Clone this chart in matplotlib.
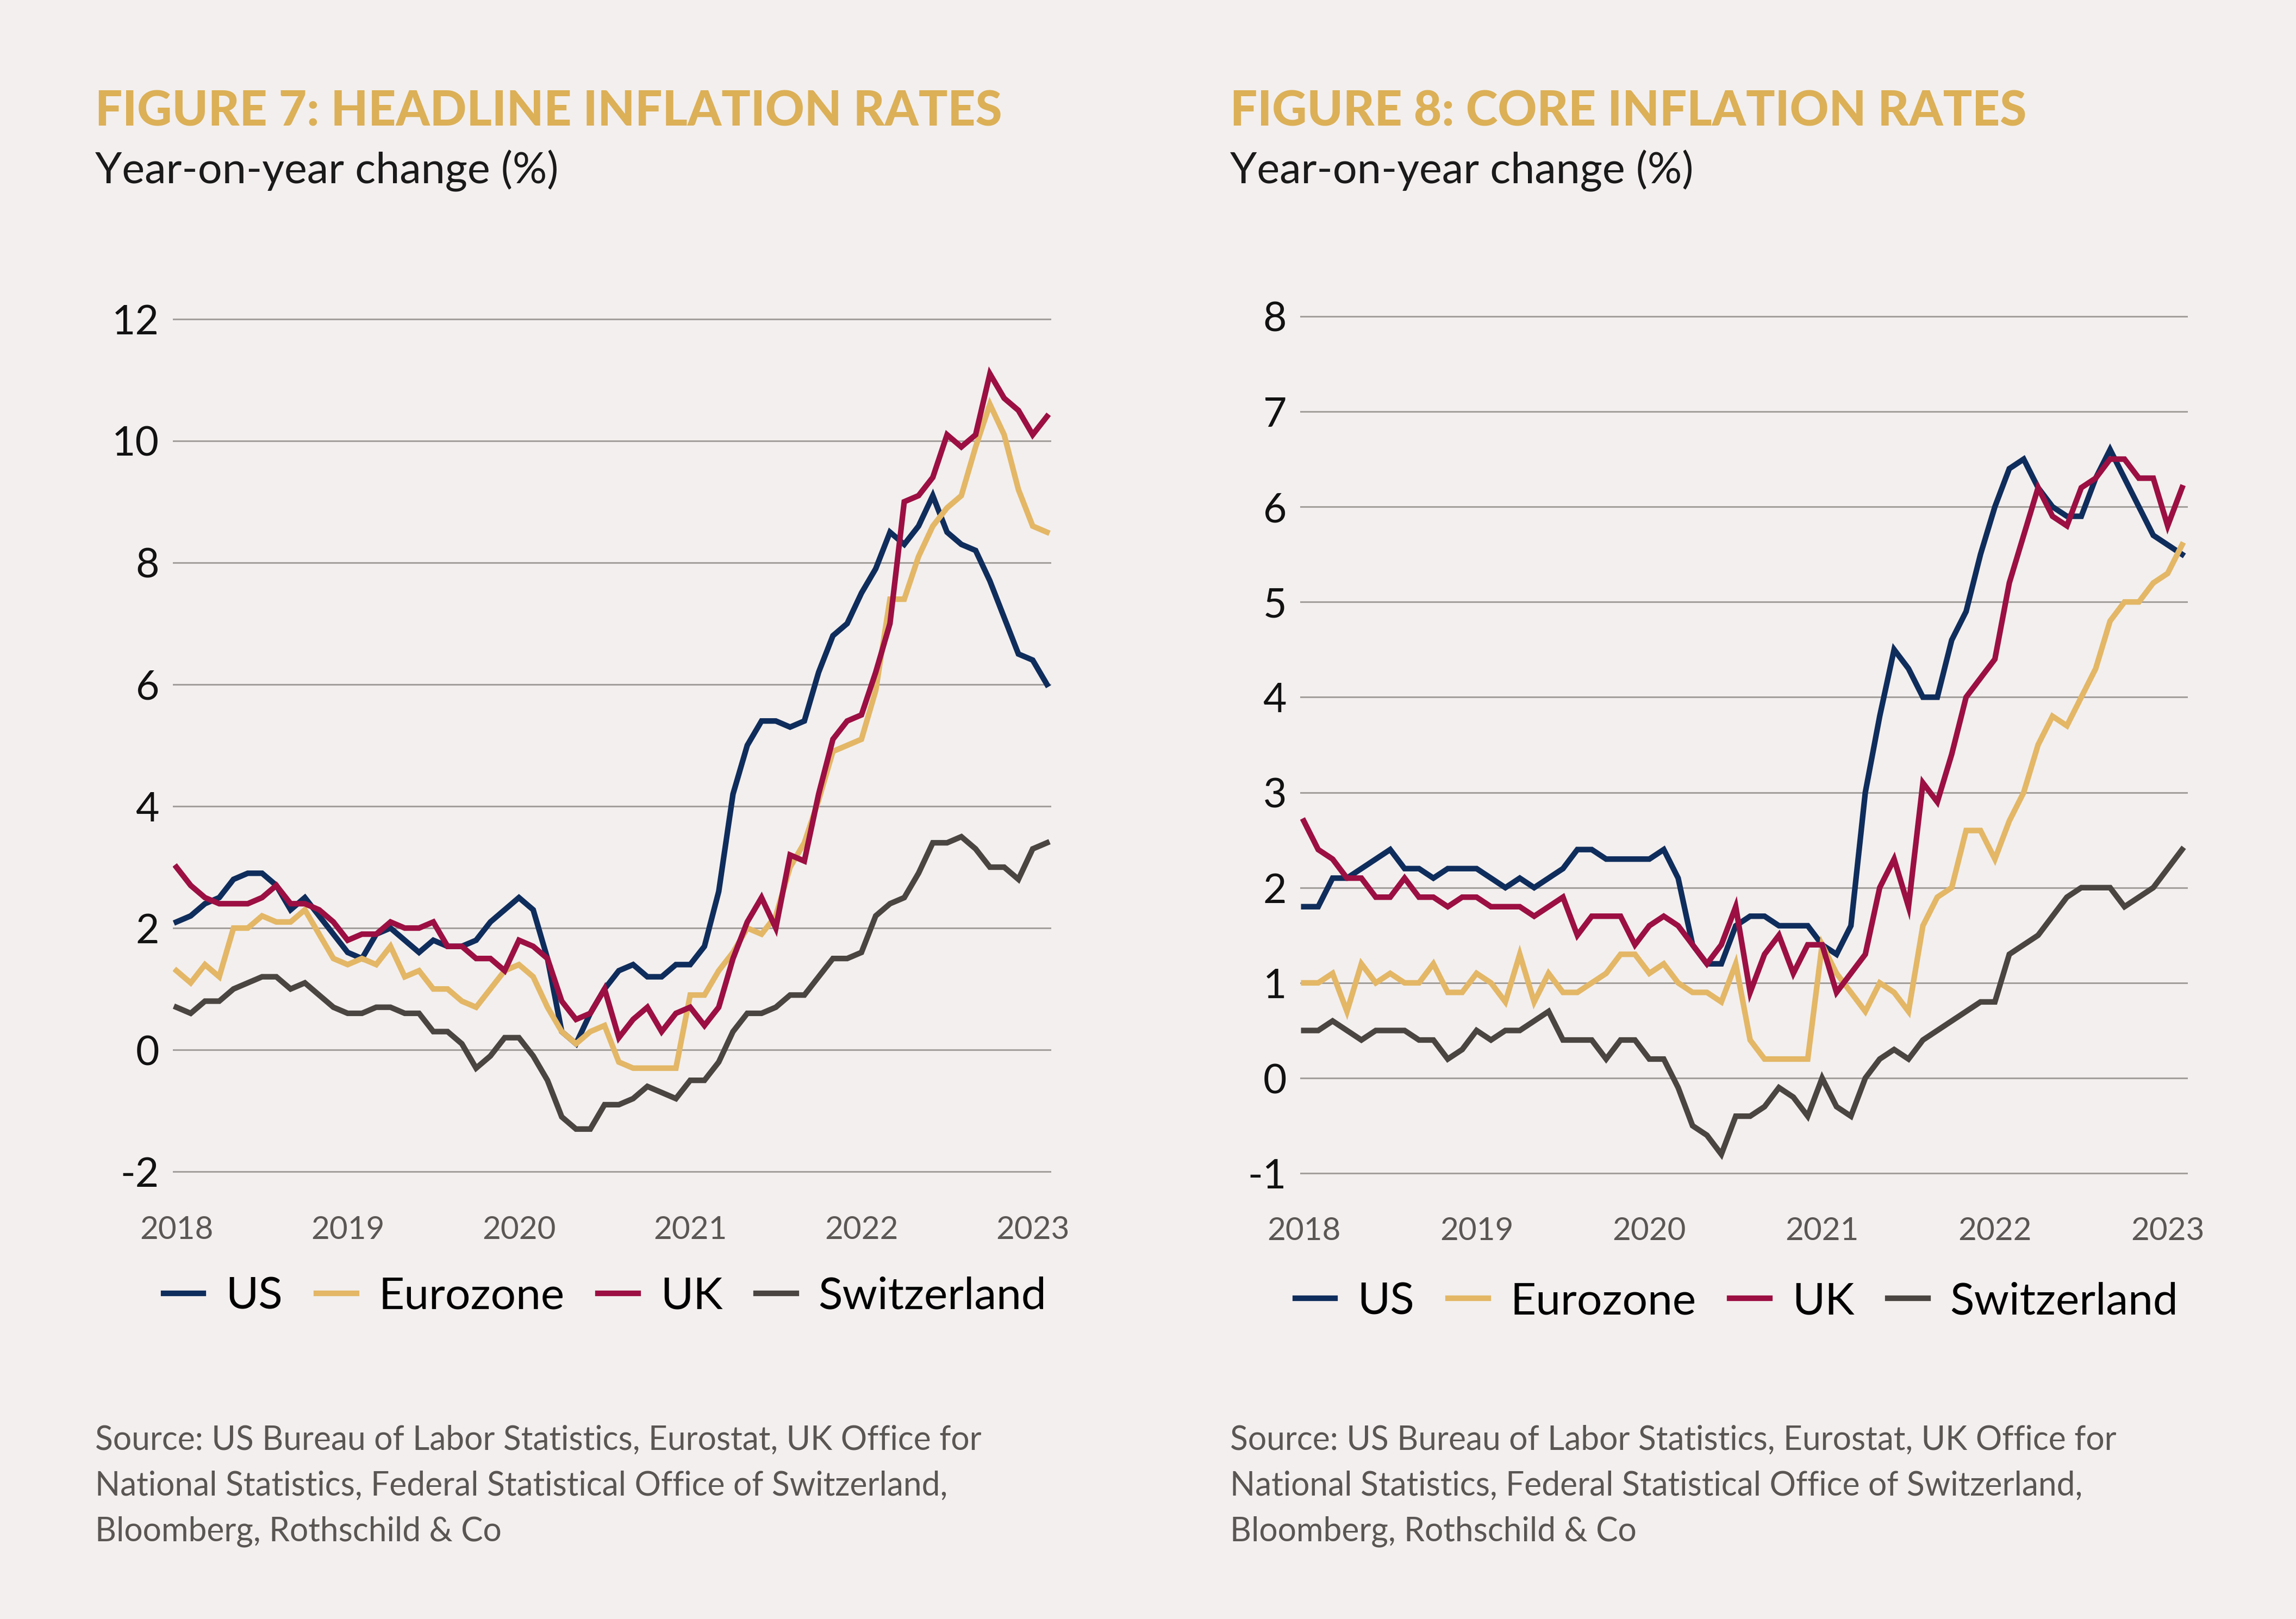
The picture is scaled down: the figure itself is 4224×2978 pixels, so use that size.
import matplotlib
matplotlib.use("Agg")
import numpy as np
import matplotlib.pyplot as plt

# ======================================================
# DATA  (monthly, Jan 2018 - Feb 2023)
# ======================================================

series_names = ["US", "Eurozone", "UK", "Switzerland"]
year_labels = ["2018", "2019", "2020", "2021", "2022", "2023"]

# Figure 7: headline inflation
us_headline = [
    2.1, 2.2, 2.4, 2.5, 2.8, 2.9, 2.9, 2.7, 2.3, 2.5, 2.2, 1.9,
    1.6, 1.5, 1.9, 2.0, 1.8, 1.6, 1.8, 1.7, 1.7, 1.8, 2.1, 2.3,
    2.5, 2.3, 1.5, 0.3, 0.1, 0.6, 1.0, 1.3, 1.4, 1.2, 1.2, 1.4,
    1.4, 1.7, 2.6, 4.2, 5.0, 5.4, 5.4, 5.3, 5.4, 6.2, 6.8, 7.0,
    7.5, 7.9, 8.5, 8.3, 8.6, 9.1, 8.5, 8.3, 8.2, 7.7, 7.1, 6.5,
    6.4, 6.0,
]
ez_headline = [
    1.3, 1.1, 1.4, 1.2, 2.0, 2.0, 2.2, 2.1, 2.1, 2.3, 1.9, 1.5,
    1.4, 1.5, 1.4, 1.7, 1.2, 1.3, 1.0, 1.0, 0.8, 0.7, 1.0, 1.3,
    1.4, 1.2, 0.7, 0.3, 0.1, 0.3, 0.4, -0.2, -0.3, -0.3, -0.3, -0.3,
    0.9, 0.9, 1.3, 1.6, 2.0, 1.9, 2.2, 3.0, 3.4, 4.1, 4.9, 5.0,
    5.1, 5.9, 7.4, 7.4, 8.1, 8.6, 8.9, 9.1, 9.9, 10.6, 10.1, 9.2,
    8.6, 8.5,
]
uk_headline = [
    3.0, 2.7, 2.5, 2.4, 2.4, 2.4, 2.5, 2.7, 2.4, 2.4, 2.3, 2.1,
    1.8, 1.9, 1.9, 2.1, 2.0, 2.0, 2.1, 1.7, 1.7, 1.5, 1.5, 1.3,
    1.8, 1.7, 1.5, 0.8, 0.5, 0.6, 1.0, 0.2, 0.5, 0.7, 0.3, 0.6,
    0.7, 0.4, 0.7, 1.5, 2.1, 2.5, 2.0, 3.2, 3.1, 4.2, 5.1, 5.4,
    5.5, 6.2, 7.0, 9.0, 9.1, 9.4, 10.1, 9.9, 10.1, 11.1, 10.7, 10.5,
    10.1, 10.4,
]
ch_headline = [
    0.7, 0.6, 0.8, 0.8, 1.0, 1.1, 1.2, 1.2, 1.0, 1.1, 0.9, 0.7,
    0.6, 0.6, 0.7, 0.7, 0.6, 0.6, 0.3, 0.3, 0.1, -0.3, -0.1, 0.2,
    0.2, -0.1, -0.5, -1.1, -1.3, -1.3, -0.9, -0.9, -0.8, -0.6, -0.7, -0.8,
    -0.5, -0.5, -0.2, 0.3, 0.6, 0.6, 0.7, 0.9, 0.9, 1.2, 1.5, 1.5,
    1.6, 2.2, 2.4, 2.5, 2.9, 3.4, 3.4, 3.5, 3.3, 3.0, 3.0, 2.8,
    3.3, 3.4,
]

# Figure 8: core inflation
us_core = [
    1.8, 1.8, 2.1, 2.1, 2.2, 2.3, 2.4, 2.2, 2.2, 2.1, 2.2, 2.2,
    2.2, 2.1, 2.0, 2.1, 2.0, 2.1, 2.2, 2.4, 2.4, 2.3, 2.3, 2.3,
    2.3, 2.4, 2.1, 1.4, 1.2, 1.2, 1.6, 1.7, 1.7, 1.6, 1.6, 1.6,
    1.4, 1.3, 1.6, 3.0, 3.8, 4.5, 4.3, 4.0, 4.0, 4.6, 4.9, 5.5,
    6.0, 6.4, 6.5, 6.2, 6.0, 5.9, 5.9, 6.3, 6.6, 6.3, 6.0, 5.7,
    5.6, 5.5,
]
ez_core = [
    1.0, 1.0, 1.1, 0.7, 1.2, 1.0, 1.1, 1.0, 1.0, 1.2, 0.9, 0.9,
    1.1, 1.0, 0.8, 1.3, 0.8, 1.1, 0.9, 0.9, 1.0, 1.1, 1.3, 1.3,
    1.1, 1.2, 1.0, 0.9, 0.9, 0.8, 1.2, 0.4, 0.2, 0.2, 0.2, 0.2,
    1.4, 1.1, 0.9, 0.7, 1.0, 0.9, 0.7, 1.6, 1.9, 2.0, 2.6, 2.6,
    2.3, 2.7, 3.0, 3.5, 3.8, 3.7, 4.0, 4.3, 4.8, 5.0, 5.0, 5.2,
    5.3, 5.6,
]
uk_core = [
    2.7, 2.4, 2.3, 2.1, 2.1, 1.9, 1.9, 2.1, 1.9, 1.9, 1.8, 1.9,
    1.9, 1.8, 1.8, 1.8, 1.7, 1.8, 1.9, 1.5, 1.7, 1.7, 1.7, 1.4,
    1.6, 1.7, 1.6, 1.4, 1.2, 1.4, 1.8, 0.9, 1.3, 1.5, 1.1, 1.4,
    1.4, 0.9, 1.1, 1.3, 2.0, 2.3, 1.8, 3.1, 2.9, 3.4, 4.0, 4.2,
    4.4, 5.2, 5.7, 6.2, 5.9, 5.8, 6.2, 6.3, 6.5, 6.5, 6.3, 6.3,
    5.8, 6.2,
]
ch_core = [
    0.5, 0.5, 0.6, 0.5, 0.4, 0.5, 0.5, 0.5, 0.4, 0.4, 0.2, 0.3,
    0.5, 0.4, 0.5, 0.5, 0.6, 0.7, 0.4, 0.4, 0.4, 0.2, 0.4, 0.4,
    0.2, 0.2, -0.1, -0.5, -0.6, -0.8, -0.4, -0.4, -0.3, -0.1, -0.2, -0.4,
    0.0, -0.3, -0.4, 0.0, 0.2, 0.3, 0.2, 0.4, 0.5, 0.6, 0.7, 0.8,
    0.8, 1.3, 1.4, 1.5, 1.7, 1.9, 2.0, 2.0, 2.0, 1.8, 1.9, 2.0,
    2.2, 2.4,
]

headline_ticks = [-2, 0, 2, 4, 6, 8, 10, 12]
core_ticks = [-1, 0, 1, 2, 3, 4, 5, 6, 7, 8]

titles = ["FIGURE 7: HEADLINE INFLATION RATES", "FIGURE 8: CORE INFLATION RATES"]
subtitle = "Year-on-year change (%)"
source_lines = [
    "Source: US Bureau of Labor Statistics, Eurostat, UK Office for",
    "National Statistics, Federal Statistical Office of Switzerland,",
    "Bloomberg, Rothschild & Co",
]

# ======================================================
# STYLE
# ======================================================

BG = "#f3efee"
GOLD_TITLE = "#dcb057"
GRID = "#a39f9c"
colors = ["#0f2d5c", "#e3b766", "#9c0f42", "#4a4540"]

plt.rcParams["font.family"] = ["Lato", "DejaVu Sans"]

W, H = 4224, 2978
fig = plt.figure(figsize=(W / 200, H / 200), dpi=200, facecolor=BG)


def px(x, y):
    return x / W, 1 - y / H


panels = [
    {
        "data": [us_headline, ez_headline, uk_headline, ch_headline],
        "ticks": headline_ticks,
        "ylim": (-2.4, 12.4),
        "rect": [318 / W, 1 - 2200 / H, 1616 / W, 1658 / H],
        "xlim": (-0.25, 61.3),
        "text_x": 175,
        "legend_x": 1113,
        "legend_y": 2381,
    },
    {
        "data": [us_core, ez_core, uk_core, ch_core],
        "ticks": core_ticks,
        "ylim": (-1.25, 8.25),
        "rect": [2392 / W, 1 - 2202 / H, 1633 / W, 1664 / H],
        "xlim": (-0.25, 61.4),
        "text_x": 2263,
        "legend_x": 3195,
        "legend_y": 2390,
    },
]

for p, title in zip(panels, titles):
    ax = fig.add_axes(p["rect"])
    ax.set_facecolor(BG)

    months = np.arange(len(p["data"][0]))
    for vals, name, c in zip(p["data"], series_names, colors):
        ax.plot(months, vals, color=c, lw=3.7, label=name,
                solid_joinstyle="miter", zorder=3)

    ax.set_ylim(*p["ylim"])
    ax.set_xlim(*p["xlim"])
    ax.set_yticks(p["ticks"])
    ax.set_yticklabels([str(t) for t in p["ticks"]], fontsize=27, color="#111111")
    ax.set_xticks(np.arange(0, 61, 12))
    ax.set_xticklabels(year_labels, fontsize=21, color="#5a5755")
    ax.tick_params(axis="both", length=0)
    ax.tick_params(axis="y", pad=9)
    ax.tick_params(axis="x", pad=13)

    for s in ax.spines.values():
        s.set_visible(False)
    ax.grid(axis="y", color=GRID, lw=1.1, zorder=1)

    leg = ax.legend(loc="center", bbox_to_anchor=px(p["legend_x"], p["legend_y"] + 4),
                    bbox_transform=fig.transFigure, ncol=4, frameon=False,
                    fontsize=29.5, handlelength=0.9, handletextpad=0.5,
                    columnspacing=0.75, borderaxespad=0)
    for line in leg.get_lines():
        line.set_linewidth(3.7)

    tx = p["text_x"] / W
    fig.text(tx, 1 - 232 / H, title, fontsize=32, fontweight="black",
             color=GOLD_TITLE, va="baseline", ha="left")
    fig.text(tx, 1 - 337 / H, subtitle, fontsize=28.5,
             color="#1a1a1a", va="baseline", ha="left")

    for i, line in enumerate(source_lines):
        fig.text(tx, 1 - (2667 + i * 83.5) / H, line, fontsize=21.8,
                 color="#595654", va="baseline", ha="left")

fig.savefig("out.png", dpi=200, facecolor=BG)
